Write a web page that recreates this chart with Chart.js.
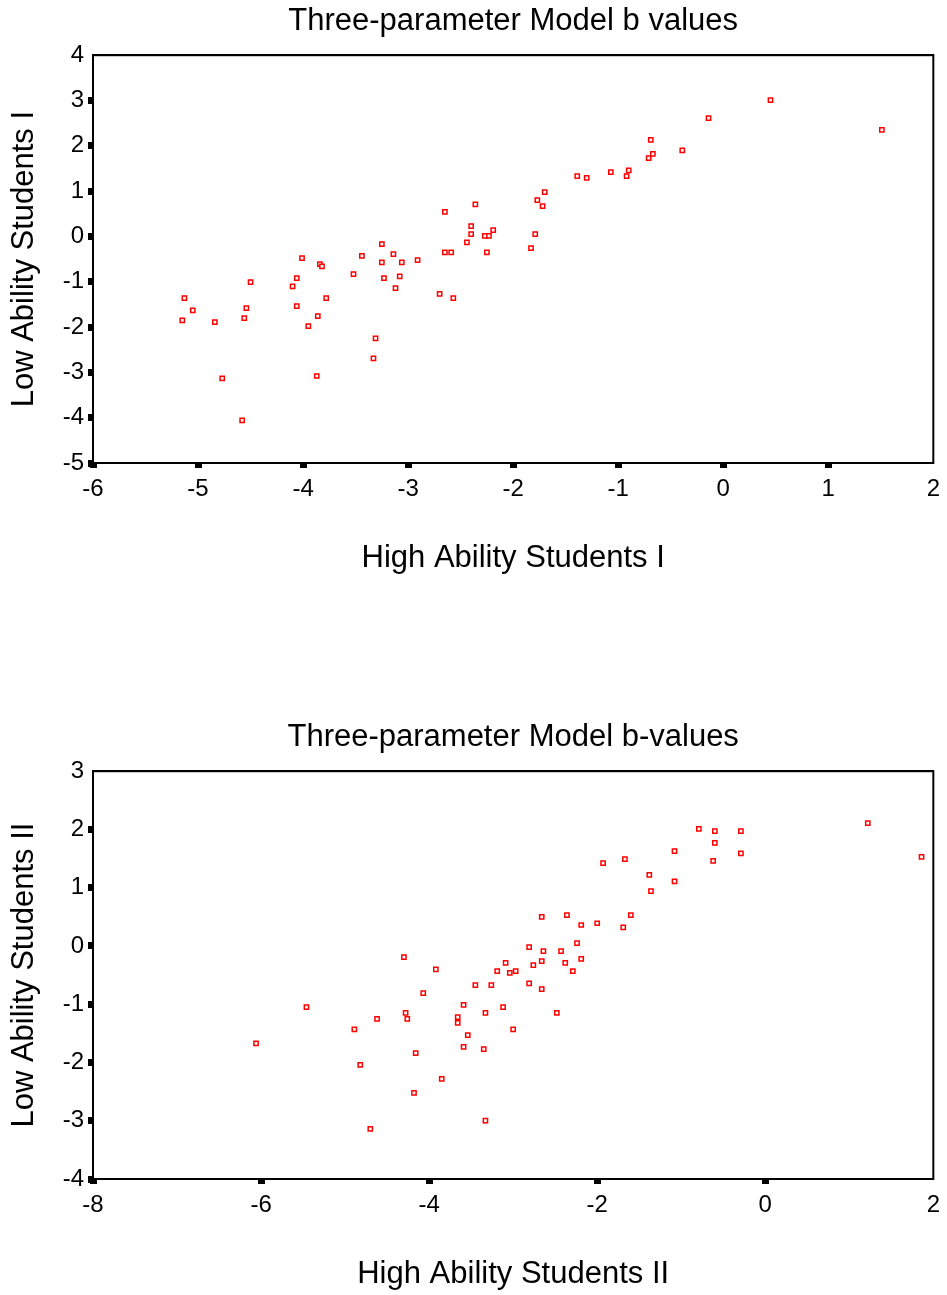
<!DOCTYPE html>
<html>
<head>
<meta charset="utf-8">
<script src="https://cdn.jsdelivr.net/npm/chart.js@4"></script>
<style>
  body { margin: 0; background: #fff; }
  .plot { position: absolute; left: 0; }
</style>
</head>
<body>
<canvas id="chartOne" class="plot" width="947" height="577" style="top:0px"></canvas>
<canvas id="chartTwo" class="plot" width="947" height="577" style="top:716px"></canvas>
<script>
// Sample I: b values, high ability (x) vs low ability (y)
let highAbilityI = [-4.01, -3.84, -3.82, -3.44, -3.52, -4.50, -4.06, -4.10, -3.78, -4.06,
    -3.86, -3.95, -5.13, -5.05, -5.15, -4.84, -4.54, -4.56, -4.77, -4.58,
    -3.87, -3.31, -3.33, -3.25, -3.14, -3.25, -3.06, -2.91, -3.23, -3.08,
    -3.12, -2.70, -2.57, -2.65, -2.36, -2.40, -2.40, -2.44, -2.65, -2.59,
    -2.27, -2.23, -2.19, -2.25, -1.79, -1.83, -1.77, -1.70, -1.72, -1.39,
    -1.30, -1.07, -0.92, -0.90, -0.69, -0.67, -0.71, -0.39, -0.14, 0.45, 1.51];
let lowAbilityI = [-0.48, -0.61, -0.66, -0.43, -0.83, -1.01, -0.92, -1.10, -1.36, -1.54,
    -1.76, -1.98, -1.36, -1.63, -1.85, -1.89, -1.58, -1.80, -3.13, -4.06,
    -3.08, -2.25, -2.69, -0.17, -0.39, -0.57, -0.57, -0.52, -0.92, -0.88,
    -1.14, -1.27, -1.36, 0.54, 0.71, 0.23, 0.05, -0.13, -0.35, -0.35,
    0.01, 0.01, 0.14, -0.35, 0.05, -0.26, 0.80, 0.98, 0.67, 1.33,
    1.29, 1.42, 1.33, 1.46, 2.13, 1.82, 1.73, 1.90, 2.61, 3.01, 2.35];

// Sample II
let highAbilityII = [-6.06, -5.46, -4.89, -4.62, -4.82, -4.70, -4.30, -4.28, -4.26, -4.07,
    -3.92, -4.16, -4.18, -3.85, -3.59, -3.66, -3.66, -3.54, -3.59, -3.35,
    -3.33, -3.33, -3.45, -3.26, -3.12, -3.00, -3.19, -3.09, -3.04, -2.97,
    -2.81, -2.81, -2.76, -2.66, -2.64, -2.66, -2.66, -2.48, -2.43, -2.38,
    -2.36, -2.29, -2.24, -2.19, -2.19, -2.00, -1.93, -1.67, -1.69, -1.60,
    -1.38, -1.36, -1.08, -1.08, -0.79, -0.60, -0.60, -0.62, -0.29, -0.29,
    1.22, 1.86];
let lowAbilityII = [-1.67, -1.05, -1.43, -1.25, -2.04, -3.14, -0.19, -1.15, -1.25, -0.81,
    -0.40, -1.84, -2.52, -2.28, -1.01, -1.22, -1.32, -1.53, -1.73, -1.77,
    -3.00, -1.15, -0.67, -0.67, -1.05, -1.43, -0.43, -0.29, -0.46, -0.43,
    -0.02, -0.64, -0.33, -0.26, -0.09, -0.74, 0.50, -1.15, -0.09, -0.29,
    0.53, -0.43, 0.05, -0.22, 0.36, 0.39, 1.42, 1.49, 0.32, 0.53,
    1.22, 0.94, 1.63, 1.11, 2.01, 1.97, 1.77, 1.46, 1.97, 1.59,
    2.11, 1.53];

const FONT = '"Liberation Sans", Arial, sans-serif';

// closes the plot frame on the top and right sides
const frame = {
    id: 'frame',
    afterDraw(chart) {
        const a = chart.chartArea;
        const c = chart.ctx;
        c.save();
        c.strokeStyle = '#000';
        c.lineWidth = 2;
        c.strokeRect(a.left, a.top, a.right - a.left, a.bottom - a.top);
        c.restore();
    }
};

function pairs(xs, ys) {
    return xs.map((x, i) => ({ x: x, y: ys[i] }));
}

// no tick mark on the last value, it sits on the corner of the frame
function tickMark(c) {
    return c.index === c.scale.ticks.length - 1 ? 'rgba(0,0,0,0)' : '#000';
}

function makeChart(id, title, xLabel, yLabel, xs, ys, xMin, xMax, xStep, yMin, yMax) {
    let ctx = document.getElementById(id).getContext('2d');
    return new Chart(ctx, {
        type: 'scatter',
        data: {
            datasets: [{
                data: pairs(xs, ys),
                pointStyle: 'rect',
                pointRadius: 3,
                borderColor: '#ff0000',
                backgroundColor: '#ffffff',
                borderWidth: 1.5
            }]
        },
        options: {
            responsive: false,
            animation: false,
            layout: { padding: { left: 0, right: 11, top: 0, bottom: 0 } },
            plugins: {
                legend: { display: false },
                tooltip: { enabled: false }
            },
            scales: {
                x: {
                    min: xMin, max: xMax,
                    grid: { drawOnChartArea: false, tickLength: 5, tickWidth: 7, tickColor: tickMark },
                    border: { color: '#000', width: 2 },
                    ticks: { stepSize: xStep, color: '#000', padding: 7, font: { family: FONT, size: 24 } },
                    title: {
                        display: true, text: xLabel, color: '#000',
                        font: { family: FONT, size: 31 },
                        padding: { top: 29, bottom: 0 }
                    }
                },
                // top axis only carries the heading, centred over the plot
                top: {
                    type: 'linear', position: 'top',
                    min: xMin, max: xMax,
                    grid: { drawOnChartArea: false, drawTicks: false },
                    border: { color: '#000', width: 2 },
                    ticks: { display: false },
                    title: {
                        display: true, text: title, color: '#000',
                        font: { family: FONT, size: 31 },
                        padding: { top: 3, bottom: 15 }
                    }
                },
                y: {
                    min: yMin, max: yMax,
                    afterFit(scale) { scale.width = 93; },
                    grid: { drawOnChartArea: false, tickLength: 5, tickWidth: 7, tickColor: tickMark },
                    border: { color: '#000', width: 2 },
                    ticks: { stepSize: 1, color: '#000', padding: 4, font: { family: FONT, size: 24 } },
                    title: {
                        display: true, text: yLabel, color: '#000',
                        font: { family: FONT, size: 31 },
                        padding: { top: 6, bottom: 0 }
                    }
                }
            }
        },
        plugins: [frame]
    });
}

makeChart('chartOne', 'Three-parameter Model b values', 'High Ability Students I', 'Low Ability Students I',
    highAbilityI, lowAbilityI, -6, 2, 1, -5, 4);
makeChart('chartTwo', 'Three-parameter Model b-values', 'High Ability Students II', 'Low Ability Students II',
    highAbilityII, lowAbilityII, -8, 2, 2, -4, 3);
</script>
</body>
</html>
